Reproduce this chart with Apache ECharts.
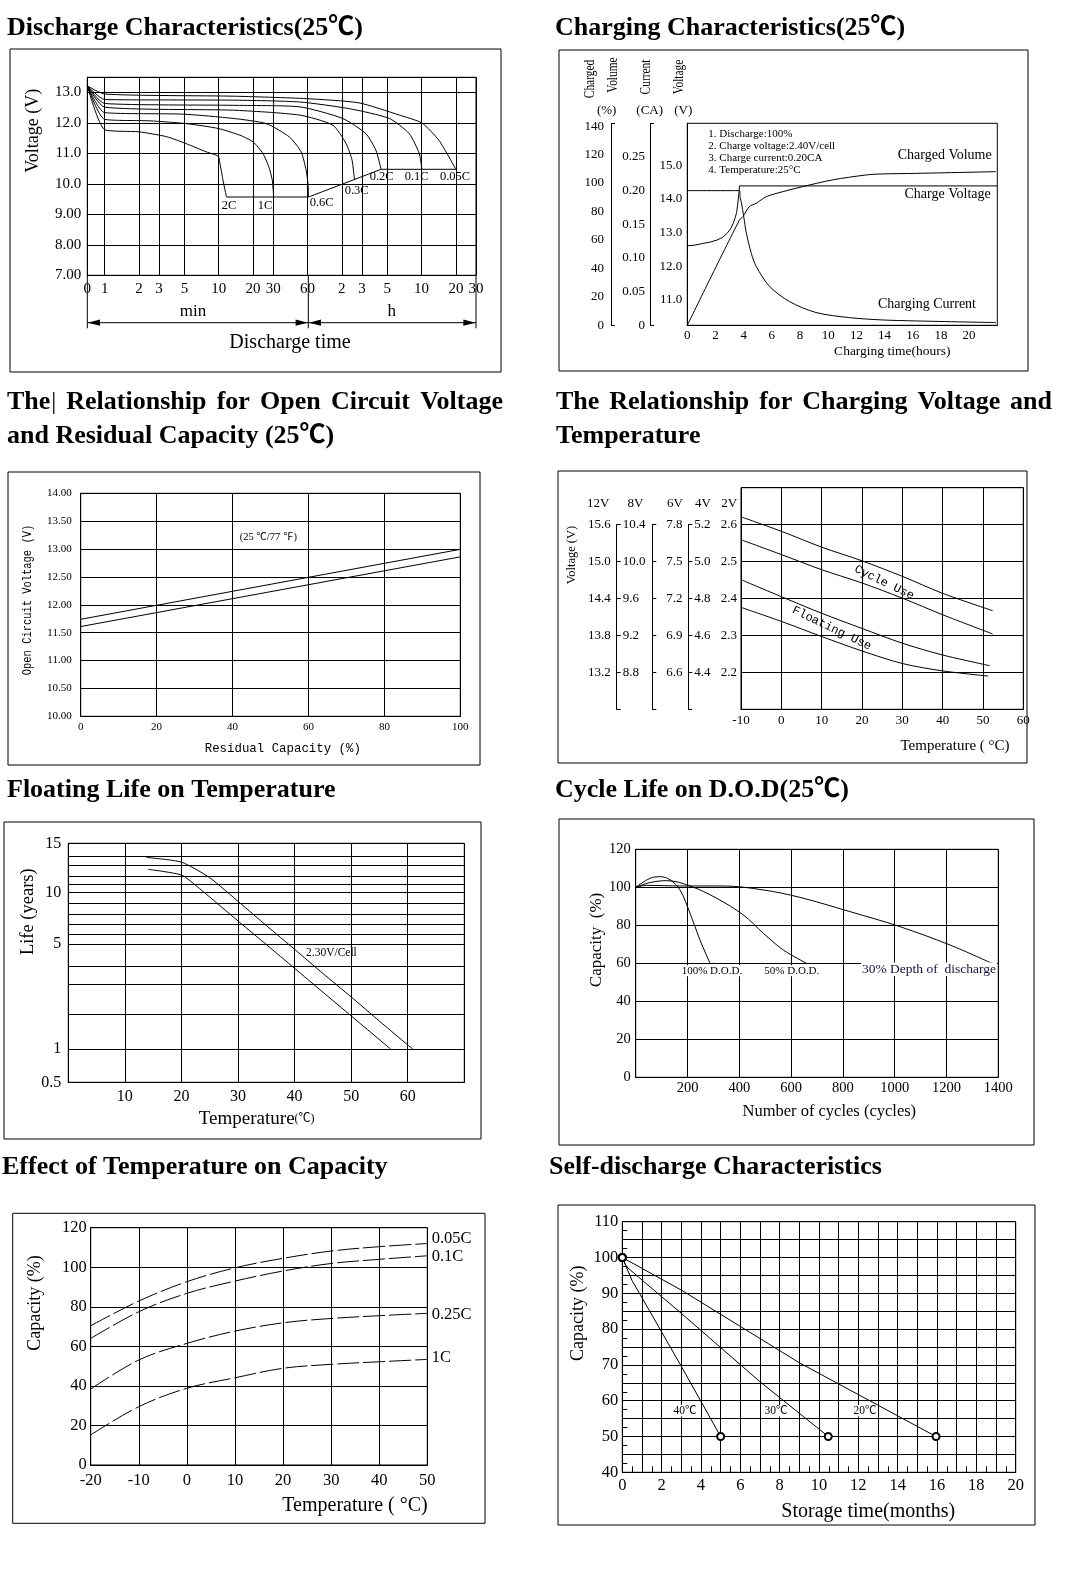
<!DOCTYPE html>
<html><head><meta charset="utf-8">
<script src="https://cdn.jsdelivr.net/npm/echarts@6/dist/echarts.min.js"></script>
<style>html,body{margin:0;padding:0;background:#fff}#c{width:1080px;height:1576px}</style>
</head><body><div id="c"></div>
<script>
// ================= DATA =================
// Panel 1: Discharge characteristics (time in minutes, voltage V)
const DIS_TICKS_MIN = [0,1,2,3,5,10,20,30,60,120,180,300,600,1200,1800];
const DIS_TICK_LABELS = ['0','1','2','3','5','10','20','30','60','2','3','5','10','20','30'];
const DIS_2C  = [[0,13.22],[1,11.78],[2,11.71],[3.5,11.55],[5.2,11.32],[7.8,11.05],[9.9,10.91],[10.2,10.72],[10.9,10.12],[11.7,9.57]];
const DIS_1C  = [[0,13.22],[1,12.12],[2.5,12.07],[5.2,11.98],[9.9,11.82],[15.3,11.6],[20,11.38],[24.4,11.0],[27.5,10.56],[29.5,10.12],[30.3,9.57]];
const DIS_06C = [[0,13.22],[1,12.34],[4.9,12.29],[13.4,12.15],[26.1,11.98],[41.7,11.54],[52.8,11.05],[58.4,10.45],[60.6,10.01],[61.3,9.57]];
const DIS_03C = [[0,13.22],[1,12.52],[13.4,12.42],[51.2,12.26],[100,11.93],[131,11.32],[147.5,10.78],[154.8,10.14]];
const DIS_02C = [[0,13.22],[1,12.64],[13.4,12.58],[51.2,12.53],[122,12.15],[195,11.65],[239,11.1],[265,10.48]];
const DIS_01C = [[0,13.22],[1,12.77],[13.4,12.75],[51.2,12.69],[140,12.47],[313,12.15],[468,11.65],[573,11.0],[604,10.48]];
const DIS_005C= [[0,13.22],[1,12.95],[13.4,12.88],[58.5,12.8],[170,12.66],[383,12.26],[604,12.0],[852,11.43],[1199,10.48]];
const DIS_END = [[11.7,9.57],[61.3,9.57],[265,10.48],[1199,10.48]];
const DIS_NAMES = ['2C','1C','0.6C','0.3C','0.2C','0.1C','0.05C'];

// Panel 2: Charging characteristics (hours)
const CHG_VOLTAGE = [[0,12.61],[0.5,12.63],[1.1,12.68],[1.6,12.72],[2.1,12.78],[2.5,12.86],[2.8,12.97],[3.05,13.1],[3.25,13.27],[3.4,13.45],[3.5,13.6],[3.58,13.85],[3.64,14.1],[3.68,14.22],[3.7,14.39],[22,14.39]];
const CHG_CURRENT = [[0,0.2],[3.7,0.2],[3.75,0.19],[3.84,0.182],[4.0,0.162],[4.19,0.137],[4.54,0.107],[4.89,0.0875],[5.84,0.0577],[7.25,0.0353],[9.13,0.019],[11.5,0.0114],[13.8,0.008],[16.2,0.0065],[21.9,0.004]];
const CHG_VOLUME = [[0,0],[3.7,74],[3.95,76.4],[4.4,83.4],[4.9,85.8],[5.6,90.4],[6.8,94],[8.2,97.5],[10.3,102.2],[12.7,105.7],[13.8,106.4],[16.2,106.8],[21.9,108]];
const CHG_VOLT_LABELS = [11,12,13,14,15];
const CHG_CURR_LABELS = [0,0.05,0.10,0.15,0.20,0.25];
const CHG_VOL_LABELS = [0,20,40,60,80,100,120,140];

// Panel 3: OCV vs residual capacity
const OCV_CAP = [0,100];
const OCV_UPPER = [11.74,12.995];
const OCV_LOWER = [11.61,12.86];

// Panel 4: charging voltage vs temperature (2V cell scale)
const CV_CYCLE_UP = [[-10,2.621],[0,2.582],[10,2.539],[20,2.502],[30,2.46],[40,2.414],[52.4,2.367]];
const CV_CYCLE_LO = [[-10,2.559],[0,2.519],[10,2.478],[20,2.442],[30,2.401],[40,2.356],[52.4,2.304]];
const CV_FLOAT_UP = [[-10,2.451],[0,2.405],[10,2.36],[20,2.319],[30,2.279],[40,2.247],[51.7,2.218]];
const CV_FLOAT_LO = [[-10,2.376],[0,2.338],[10,2.297],[20,2.258],[30,2.224],[40,2.204],[51.3,2.19]];
const CV_2V = [2.2,2.3,2.4,2.5,2.6];
const CV_4V = [4.4,4.6,4.8,5.0,5.2];
const CV_6V = [6.6,6.9,7.2,7.5,7.8];
const CV_8V = [8.8,9.2,9.6,10.0,10.4];
const CV_12V = [13.2,13.8,14.4,15.0,15.6];

// Panel 5: floating life vs temperature
const LIFE_GRID_VALUES = [0.5,1,2,3,4,5,6,7,8,9,10,11,12,13,14,15];
const LIFE_AXIS_SCALE = [0,33,68,98,115.6,138,148,157.3,168,179,189,197.3,205.6,216.3,225.6,238.3]; // printed (non-uniform) scale
const LIFE_LABELS = [0.5,1,5,10,15];
const FL_UPPER = [[13.8,13.85],[20,13.35],[25,11.8],[30.3,9.0],[35,6.89],[40,4.76],[45,3.6],[50,2.57],[55,1.8],[60.9,1.0]];
const FL_LOWER = [[14.1,12.63],[20,12.1],[23.2,10.5],[30.3,7.2],[35,4.97],[40,3.89],[45,2.73],[50,1.95],[57,1.0]];

// Panel 6: cycle life vs DOD
const DOD100 = [[0,100],[55,104.7],[94,105.6],[133,103.9],[171,98.6],[210,86.3],[248,72.3],[287,60]];
const DOD50  = [[0,100],[55,102.5],[120,103.5],[210,100.7],[313,94.2],[416,85.4],[493,75.8],[570,67],[660,60]];
const DOD30  = [[0,100],[42,101],[184,100.7],[338,100.7],[493,98.6],[634,94.7],[827,87.2],[1020,79.3],[1214,69.6],[1375,60]];

// Panel 7: temperature vs capacity
const TEMP_X = [-20,-10,0,10,20,30,40,50];
const CAP_005C = [70.4,82.9,92.7,99.7,104.5,108.2,110.4,112];
const CAP_01C  = [64,77.5,86.8,93,98.1,101.9,104,105.8];
const CAP_025C = [38.4,53.1,61.5,67.7,71.9,74.1,75.5,76.7];
const CAP_1C   = [15.2,29.5,38.8,44.1,48.9,50.9,52.2,53.4];

// Panel 8: self-discharge
const SD_40 = [[0,100],[0.5,93.5],[1,88.8],[3,69.6],[5,50]];
const SD_30 = [[0,100],[0.2,97.5],[1,93.7],[3,84.4],[7,65.3],[10.47,50]];
const SD_20 = [[0,100],[3,90.9],[9,70.6],[15.95,50]];

// ================= HELPERS =================
const SERIF = '"Liberation Serif","Noto Sans CJK SC",serif';
const MONO = '"Liberation Mono","Noto Sans CJK SC",monospace';
const BLACK = '#000';
const DIS_X0 = -0.152;
const tx = t => t === 0 ? DIS_X0 : Math.log10(t);
const near = (a,b) => Math.abs(a-b) < 1e-6;
function lifePos(v){
  const a = LIFE_GRID_VALUES, p = LIFE_AXIS_SCALE;
  for (let i=0;i<a.length-1;i++) if (v <= a[i+1]) return p[i] + (v-a[i])/(a[i+1]-a[i])*(p[i+1]-p[i]);
  return p[p.length-1];
}
function ax(o){
  const b = {
    type:'value',
    axisLine:{show:true,onZero:false,lineStyle:{color:BLACK,width:1}},
    axisTick:{show:false},
    minorTick:{show:false},
    splitLine:{show:true,lineStyle:{color:BLACK,width:1}},
    minorSplitLine:{show:false},
    axisLabel:{color:BLACK,fontFamily:SERIF,fontSize:15,hideOverlap:false,showMinLabel:true,showMaxLabel:true},
    axisPointer:{show:false}
  };
  for (const k in o){
    if (o[k] && typeof o[k]==='object' && !Array.isArray(o[k]) && b[k] && typeof b[k]==='object') b[k] = Object.assign({}, b[k], o[k]);
    else b[k] = o[k];
  }
  return b;
}
function ln(xi, yi, data, o){
  return Object.assign({type:'line',xAxisIndex:xi,yAxisIndex:yi,data,showSymbol:false,symbol:'none',silent:true,animation:false,
    lineStyle:{color:BLACK,width:1},smooth:false,z:5}, o||{});
}
function T(x,y,text,size,o){
  o = o||{};
  const st = {text, font:(o.bold?'bold ':'')+size+'px '+(o.family||SERIF), fill:o.color||BLACK, align:o.align||'left', verticalAlign:o.va||'middle'};
  if (o.bg){ st.backgroundColor = o.bg; st.padding = o.pad||[0,1]; }
  if (o.rich){ st.rich = o.rich; }
  return {type:'text', x, y, rotation:o.rot||0, scaleX:o.sx||1, scaleY:o.sy||1, z:100, silent:true, style:st};
}
function R(x,y,w,h){ return {type:'rect', shape:{x,y,width:w,height:h}, style:{fill:'transparent',stroke:BLACK,lineWidth:1}, z:50, silent:true}; }
function L(x1,y1,x2,y2){ return {type:'line', shape:{x1,y1,x2,y2}, style:{stroke:BLACK,lineWidth:1}, z:50, silent:true}; }
function P(pts){ return {type:'polygon', shape:{points:pts}, style:{fill:BLACK}, z:50, silent:true}; }
const TITLE_SIZE = 26;
const TITLE_FONT = 'bold '+TITLE_SIZE+'px '+SERIF;
function justify(words, Lx, Rx, y){
  const ctx = document.createElement('canvas').getContext('2d');
  ctx.font = TITLE_FONT;
  const ws = words.map(w=>ctx.measureText(w).width);
  const gap = (Rx-Lx-ws.reduce((a,b)=>a+b,0))/(words.length-1);
  let x = Lx; const out = [];
  words.forEach((w,i)=>{
    if (w.endsWith('|')){
      const base = w.slice(0,-1);
      out.push(T(x,y,base,TITLE_SIZE,{bold:true}));
      out.push(T(x+ctx.measureText(base).width+1,y,'|',TITLE_SIZE-1,{}));
    } else out.push(T(x,y,w,TITLE_SIZE,{bold:true}));
    x += ws[i]+gap;
  });
  return out;
}

// ================= LAYOUT =================
const gb = {show:true,borderColor:BLACK,borderWidth:1,backgroundColor:'transparent',containLabel:false,outerBoundsMode:'none'};
const gh = {show:false,containLabel:false,outerBoundsMode:'none'};
const grids = [
  Object.assign({left:87.3, top:77.3, width:388.7, height:198}, gb),     //0 P1
  Object.assign({left:687.3, top:123.3, width:310, height:202}, gb),     //1 P2
  Object.assign({left:80.7, top:493.3, width:379.6, height:223}, gb),    //2 P3
  Object.assign({left:741, top:487.7, width:282.3, height:221.6}, gb),   //3 P4
  Object.assign({left:68.3, top:843.3, width:396, height:239}, gb),      //4 P5
  Object.assign({left:635.7, top:849.3, width:362.6, height:228}, gb),   //5 P6
  Object.assign({left:90.7, top:1227.7, width:336.6, height:237.3}, gb), //6 P7
  Object.assign({left:622.3, top:1221.7, width:393.4, height:250.6}, gb),//7 P8
  Object.assign({left:616.7, top:524.6, width:1, height:184.7}, gh),     //8 P4 12V/8V
  Object.assign({left:652.3, top:524.6, width:1, height:184.7}, gh),     //9 P4 6V
  Object.assign({left:688.3, top:524.6, width:1, height:184.7}, gh)      //10 P4 4V
];

const disTickPos = DIS_TICKS_MIN.map(tx);
const xAxes = [
  ax({gridIndex:0, min:DIS_X0, max:Math.log10(1800),
      axisTick:{show:false, customValues:disTickPos},
      axisLabel:{customValues:disTickPos, fontSize:15, margin:6,
        formatter:v=>{const i=disTickPos.findIndex(p=>near(p,v)); return i<0?'':DIS_TICK_LABELS[i];}}}),
  ax({gridIndex:1, min:0, max:22, interval:2, splitLine:{show:false},
      axisLabel:{fontSize:13, margin:4, formatter:v=>v>20?'':String(v)}}),
  ax({gridIndex:2, min:0, max:100, interval:20, axisLabel:{fontSize:11, margin:5}}),
  ax({gridIndex:3, min:-10, max:60, interval:10, axisLabel:{fontSize:13, margin:5}}),
  ax({gridIndex:4, min:0, max:70, interval:10, axisLabel:{fontSize:16, margin:6, formatter:v=>(v===0||v===70)?'':String(v)}}),
  ax({gridIndex:5, min:0, max:1400, interval:200, axisLabel:{fontSize:14.5, margin:4, formatter:v=>v===0?'':String(v)}}),
  ax({gridIndex:6, min:-20, max:50, interval:10, axisLabel:{fontSize:16.5, margin:7}}),
  ax({gridIndex:7, min:0, max:20, interval:1,
      axisTick:{show:true, inside:true, length:6, lineStyle:{color:BLACK}},
      minorTick:{show:true, splitNumber:2, length:6, lineStyle:{color:BLACK}},
      axisLabel:{fontSize:16.5, margin:5, formatter:v=>(Math.round(v)%2===0)?String(v):''}}),
  {type:'value', gridIndex:8, show:false, min:0, max:1},
  {type:'value', gridIndex:9, show:false, min:0, max:1},
  {type:'value', gridIndex:10, show:false, min:0, max:1}
];

const lifeLabelPos = LIFE_LABELS.map(lifePos);
const yAxes = [
  ax({gridIndex:0, min:7, max:13.5, interval:1,
      axisLabel:{fontSize:15, margin:6, formatter:v=>v>13.01?'':(v<10?v.toFixed(2):v.toFixed(1))}}),
  ax({gridIndex:1, position:'left', min:10.25, max:16.25, splitLine:{show:false},
      axisLabel:{customValues:CHG_VOLT_LABELS, fontSize:13, margin:5, formatter:v=>v.toFixed(1)}}),
  ax({gridIndex:1, position:'left', offset:37.3, min:0, max:0.3, splitLine:{show:false},
      axisTick:{show:true, inside:true, length:4, customValues:[0,0.3], lineStyle:{color:BLACK}},
      axisLabel:{customValues:CHG_CURR_LABELS, fontSize:13, margin:5, formatter:v=>v===0?'0':v.toFixed(2)}}),
  ax({gridIndex:1, position:'left', offset:76.3, min:0, max:142, splitLine:{show:false},
      axisTick:{show:true, inside:true, length:4, customValues:[0,142], lineStyle:{color:BLACK}},
      axisLabel:{customValues:CHG_VOL_LABELS, fontSize:13, margin:7, formatter:v=>String(v)}}),
  ax({gridIndex:2, min:10, max:14, interval:0.5, axisLabel:{fontSize:11, margin:9, formatter:v=>v.toFixed(2)}}),
  ax({gridIndex:3, min:2.1, max:2.7, interval:0.1,
      axisLabel:{customValues:CV_2V, fontSize:13, margin:4, formatter:v=>v.toFixed(1)}}),
  ax({gridIndex:4, min:0, max:LIFE_AXIS_SCALE[LIFE_AXIS_SCALE.length-1],
      axisTick:{show:false, customValues:LIFE_AXIS_SCALE},
      axisLabel:{customValues:lifeLabelPos, fontSize:16, margin:7,
        formatter:v=>{const i=lifeLabelPos.findIndex(p=>near(p,v)); return i<0?'':String(LIFE_LABELS[i]);}}}),
  ax({gridIndex:5, min:0, max:120, interval:20, axisLabel:{fontSize:14.5, margin:5}}),
  ax({gridIndex:6, min:0, max:120, interval:20, axisLabel:{fontSize:16.5, margin:4}}),
  ax({gridIndex:7, min:40, max:110, interval:5,
      axisTick:{show:true, inside:true, length:5, lineStyle:{color:BLACK}},
      minorTick:{show:true, splitNumber:2, length:5, lineStyle:{color:BLACK}},
      axisLabel:{fontSize:16.5, margin:4, formatter:v=>(Math.round(v)%10===0)?String(v):''}}),
  ax({gridIndex:8, position:'left', min:12.6, max:15.6, splitLine:{show:false},
      axisTick:{show:true, inside:true, length:4, customValues:[12.6].concat(CV_12V), lineStyle:{color:BLACK}},
      axisLabel:{customValues:CV_12V, fontSize:13, margin:6, formatter:v=>v.toFixed(1)}}),
  ax({gridIndex:8, position:'left', min:8.4, max:10.4, splitLine:{show:false}, axisLine:{show:false},
      axisLabel:{customValues:CV_8V, inside:true, fontSize:13, margin:6, formatter:v=>v.toFixed(1)}}),
  ax({gridIndex:9, position:'left', min:6.3, max:7.8, splitLine:{show:false},
      axisTick:{show:true, inside:true, length:4, customValues:[6.3].concat(CV_6V), lineStyle:{color:BLACK}},
      axisLabel:{customValues:CV_6V, inside:true, fontSize:13, margin:14, formatter:v=>v.toFixed(1)}}),
  ax({gridIndex:10, position:'left', min:4.2, max:5.2, splitLine:{show:false},
      axisTick:{show:true, inside:true, length:4, customValues:[4.2].concat(CV_4V), lineStyle:{color:BLACK}},
      axisLabel:{customValues:CV_4V, inside:true, fontSize:13, margin:6, formatter:v=>v.toFixed(1)}})
];

// ================= SERIES =================
const toDis = d => d.map(([t,v])=>[tx(t),v]);
const series = [];
[DIS_2C,DIS_1C,DIS_06C,DIS_03C,DIS_02C,DIS_01C,DIS_005C].forEach((d,i)=>series.push(ln(0,0,toDis(d),{name:DIS_NAMES[i],smooth:0.2})));
series.push(ln(0,0,toDis(DIS_END)));
series.push(ln(1,1,CHG_VOLTAGE,{name:'Charge Voltage'}));
series.push(ln(1,2,CHG_CURRENT,{name:'Charging Current',smooth:0.3}));
series.push(ln(1,3,CHG_VOLUME,{name:'Charged Volume',smooth:0.3}));
series.push(ln(2,4,OCV_CAP.map((c,i)=>[c,OCV_UPPER[i]])));
series.push(ln(2,4,OCV_CAP.map((c,i)=>[c,OCV_LOWER[i]])));
[CV_CYCLE_UP,CV_CYCLE_LO,CV_FLOAT_UP,CV_FLOAT_LO].forEach(d=>series.push(ln(3,5,d,{smooth:0.3})));
[FL_UPPER,FL_LOWER].forEach(d=>series.push(ln(4,6,d.map(([t,v])=>[t,lifePos(v)]),{smooth:0.2})));
[DOD100,DOD50,DOD30].forEach(d=>series.push(ln(5,7,d,{smooth:0.35})));
[CAP_005C,CAP_01C,CAP_025C,CAP_1C].forEach(c=>series.push(ln(6,8,TEMP_X.map((t,i)=>[t,c[i]]),{smooth:0.35,lineStyle:{color:BLACK,width:1,type:[22,4]}})));
[SD_40,SD_30,SD_20].forEach(d=>series.push(ln(7,9,d,{showSymbol:true,showAllSymbol:true,symbol:'emptyCircle',
  symbolSize:(v,p)=>(p.dataIndex===0||p.dataIndex===d.length-1)?7:0, itemStyle:{color:BLACK,borderWidth:1}})));

// ================= GRAPHICS =================
const G = [];
G.push(R(10,49,491,323), R(559,50,469,321), R(8,472,472,293), R(558,471,469,292),
       R(4,822,477,317), R(559,819,475,326), R(12.7,1213.3,472.3,310), R(558,1205,477,320));
// titles
G.push(T(7,28,'Discharge Characteristics(25℃)',TITLE_SIZE,{bold:true}));
G.push(T(555,28,'Charging Characteristics(25℃)',TITLE_SIZE,{bold:true}));
G.push(...justify(['The|','Relationship','for','Open','Circuit','Voltage'],7,503,402));
G.push(T(7,436,'and Residual Capacity (25℃)',TITLE_SIZE,{bold:true}));
G.push(...justify(['The','Relationship','for','Charging','Voltage','and'],556,1052,402));
G.push(T(556,436,'Temperature',TITLE_SIZE,{bold:true}));
G.push(T(7,790,'Floating Life on Temperature',TITLE_SIZE,{bold:true}));
G.push(T(555,790,'Cycle Life on D.O.D(25℃)',TITLE_SIZE,{bold:true}));
G.push(T(2,1167,'Effect of Temperature on Capacity',TITLE_SIZE,{bold:true}));
G.push(T(549,1167,'Self-discharge Characteristics',TITLE_SIZE,{bold:true}));

// Panel 1
G.push(T(33,130.8,'Voltage (V)',18,{align:'center',rot:Math.PI/2}));
[['2C',229,205.7],['1C',265,205.7],['0.6C',321.7,203],['0.3C',356.7,190.7],['0.2C',381.7,176.7],['0.1C',416.7,176.7],['0.05C',455,176.7]]
  .forEach(([s,x,y])=>G.push(T(x,y,s,12.5,{align:'center'})));
G.push(L(87.3,275.3,87.3,328.3), L(308.3,275.3,308.3,328.3), L(476,275.3,476,328.3), L(87.3,322.7,476,322.7));
G.push(P([[87.8,322.7],[100,319.6],[100,325.8]]), P([[307.8,322.7],[295.6,319.6],[295.6,325.8]]),
       P([[308.8,322.7],[321,319.6],[321,325.8]]), P([[475.5,322.7],[463.3,319.6],[463.3,325.8]]));
G.push(T(193,311.7,'min',17,{align:'center'}), T(391.7,311.7,'h',17,{align:'center'}), T(290,342.7,'Discharge time',20,{align:'center'}));

// Panel 2
G.push(T(590,79,'Charged',15,{align:'center',rot:Math.PI/2,sx:0.76}));
G.push(T(613.3,75,'Volume',15,{align:'center',rot:Math.PI/2,sx:0.76}));
G.push(T(646.5,77,'Current',15,{align:'center',rot:Math.PI/2,sx:0.76}));
G.push(T(679.5,77,'Voltage',15,{align:'center',rot:Math.PI/2,sx:0.76}));
G.push(T(606.7,111,'(%)',13,{align:'center'}), T(649.7,111,'(CA)',13,{align:'center'}), T(683.3,111,'(V)',13,{align:'center'}));
['1. Discharge:100%','2. Charge voltage:2.40V/cell','3. Charge current:0.20CA','4. Temperature:25°C']
  .forEach((s,i)=>G.push(T(708.3,134.3+12*i,s,11)));
G.push(T(991.7,155,'Charged Volume',14,{align:'right'}));
G.push(T(990.7,194,'Charge Voltage',14,{align:'right'}));
G.push(T(976,304,'Charging Current',14,{align:'right'}));
G.push(T(892.3,351.5,'Charging time(hours)',13.5,{align:'center'}));

// Panel 3
G.push(T(28.3,600,'Open Circuit Voltage (V)',12,{align:'center',rot:Math.PI/2,family:MONO,sx:0.87}));
G.push(T(282.8,749,'Residual Capacity (%)',12.4,{align:'center',family:MONO}));
G.push(T(268.3,537.3,'(25 ℃/77 ℉)',10.5,{align:'center'}));

// Panel 4
[['12V',598.3],['8V',635.5],['6V',675],['4V',703],['2V',729.2]].forEach(([s,x])=>G.push(T(x,503.3,s,13,{align:'center'})));
G.push(T(571.7,555,'Voltage (V)',12.5,{align:'center',rot:Math.PI/2}));
G.push(T(955,746,'Temperature ( °C)',15,{align:'center'}));
G.push(T(884.2,582.5,'Cycle Use',12,{align:'center',rot:-0.45,family:MONO}));
G.push(T(831.7,628.3,'Floating Use',12,{align:'center',rot:-0.45,family:MONO}));

// Panel 5
G.push(T(28.3,911.7,'Life (years)',18.5,{align:'center',rot:Math.PI/2}));
G.push(T(256.7,1119,'{a|Temperature}{b|(℃)}',19,{align:'center',rich:{a:{fontSize:19,fontFamily:SERIF},b:{fontSize:12,fontFamily:SERIF}}}));
G.push(T(306,953.3,'2.30V/Cell',11.5));

// Panel 6
G.push(T(596.7,940,'Capacity  (%)',17,{align:'center',rot:Math.PI/2}));
G.push(T(829.3,1111.7,'Number of cycles (cycles)',16.5,{align:'center'}));
G.push(T(680.7,970.7,'100% D.O.D.',11,{bg:'#fff'}));
G.push(T(763.3,970.7,'50% D.O.D.',11,{bg:'#fff'}));
G.push(T(861,969.3,'30% Depth of  discharge',13.5,{bg:'#fff',color:'#12123a'}));

// Panel 7
G.push(T(35,1303,'Capacity (%)',18,{align:'center',rot:Math.PI/2}));
G.push(T(355,1505.7,'Temperature ( °C)',20,{align:'center'}));
[['0.05C',1238.3],['0.1C',1256.7],['0.25C',1315],['1C',1357.7]].forEach(([s,y])=>G.push(T(431.7,y,s,16.5)));

// Panel 8
G.push(T(578.3,1313.3,'Capacity (%)',18,{align:'center',rot:Math.PI/2}));
G.push(T(868.3,1511.7,'Storage time(months)',20,{align:'center'}));
[['40℃',685,1410.7],['30℃',776,1410.7],['20℃',865,1410.7]].forEach(([s,x,y])=>G.push(T(x,y,s,11.5,{align:'center',bg:'#fff'})));

// ================= RENDER =================
const chart = echarts.init(document.getElementById('c'), null, {renderer:'canvas', width:1080, height:1576});
chart.setOption({
  animation:false,
  backgroundColor:'#fff',
  textStyle:{fontFamily:SERIF},
  grid:grids,
  xAxis:xAxes,
  yAxis:yAxes,
  series,
  graphic:{elements:G}
});
</script></body></html>
